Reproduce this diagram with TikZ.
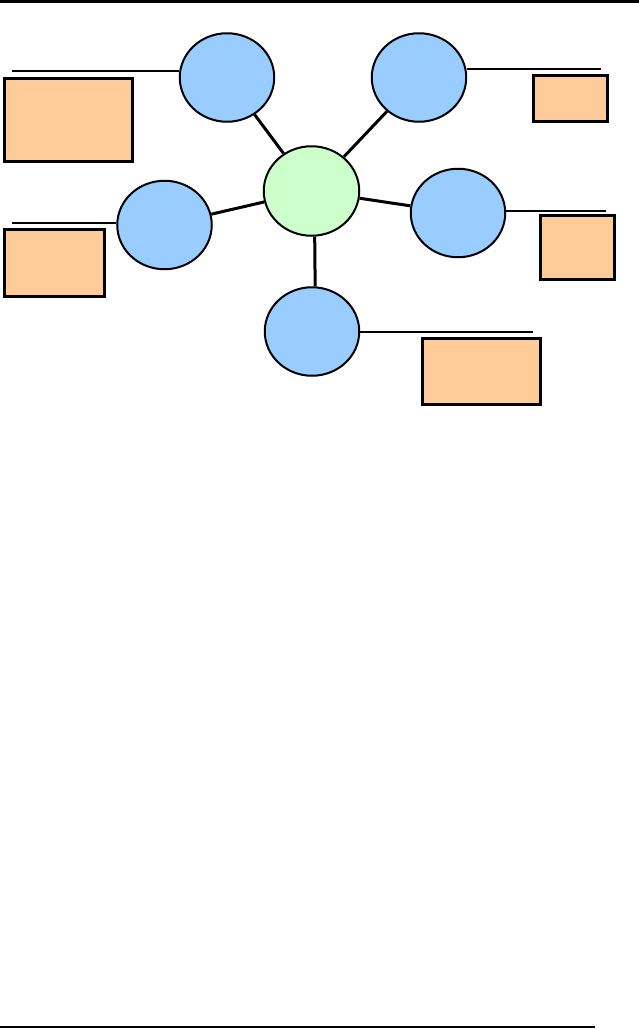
\documentclass[tikz,border=0pt]{standalone}
\usetikzlibrary{shapes.geometric}
\definecolor{leafblue}{HTML}{99CCFF}
\definecolor{hubgreen}{HTML}{CCFFCC}
\definecolor{noteorange}{HTML}{FFCC99}
\tikzset{
  leaf/.style={ellipse, draw=black, fill=leafblue, line width=2pt, inner sep=0pt, minimum width=94.5pt, minimum height=88.5pt},
  hub/.style={leaf, fill=hubgreen, minimum width=95.5pt, minimum height=89.5pt},
  note/.style={rectangle, draw=black, fill=noteorange, line width=3.3pt, inner sep=0pt},
  spoke/.style={line width=3pt},
  lead/.style={line width=2.7pt},
}
\begin{document}
\begin{tikzpicture}[x=1pt, y=-1pt]
  \useasboundingbox (0,0) rectangle (639,1029);
  % 页眉与页脚横线
  \draw[line width=3pt] (0,1.5) -- (639,1.5);
  \draw[line width=2pt] (0,1027) -- (595,1027);

  % 中心与五个分支
  \node[hub]  (hub)    at (311.5,191) {};
  \node[leaf] (topl)   at (227,77.5)  {};
  \node[leaf] (topr)   at (419,77.5)  {};
  \node[leaf] (left)   at (164.5,225) {};
  \node[leaf] (right)  at (458,213)   {};
  \node[leaf] (bottom) at (312,331.5) {};

  % 注释框
  \node[note, minimum width=128pt, minimum height=83pt] (ntopl)   at (68.5,120)   {};
  \node[note, minimum width=74pt,  minimum height=46pt] (ntopr)   at (570.5,98.5) {};
  \node[note, minimum width=100pt, minimum height=67pt] (nleft)   at (54.5,263)   {};
  \node[note, minimum width=74pt,  minimum height=64pt] (nright)  at (577.5,247.5){};
  \node[note, minimum width=118pt, minimum height=66pt] (nbottom) at (481.5,371.5){};

  % 辐条
  \foreach \b in {topl,topr,left,right}
    \draw[spoke] (hub) -- (\b);
  \draw[spoke] (hub.-86) -- (bottom.86);

  % 引线的自由端
  \coordinate (etopl)   at (12,71);
  \coordinate (etopr)   at (601,69);
  \coordinate (eleft)   at (12,223);
  \coordinate (eright)  at (606,211);
  \coordinate (ebottom) at (533,332);
  \draw[lead] (topl.west |- etopl) -- (etopl);
  \draw[lead] (topr.east |- etopr) -- (etopr);
  \draw[lead] (left.west |- eleft) -- (eleft);
  \draw[lead] (right.east |- eright) -- (eright);
  \draw[lead] (bottom.east |- ebottom) -- (ebottom);
\end{tikzpicture}
\end{document}
